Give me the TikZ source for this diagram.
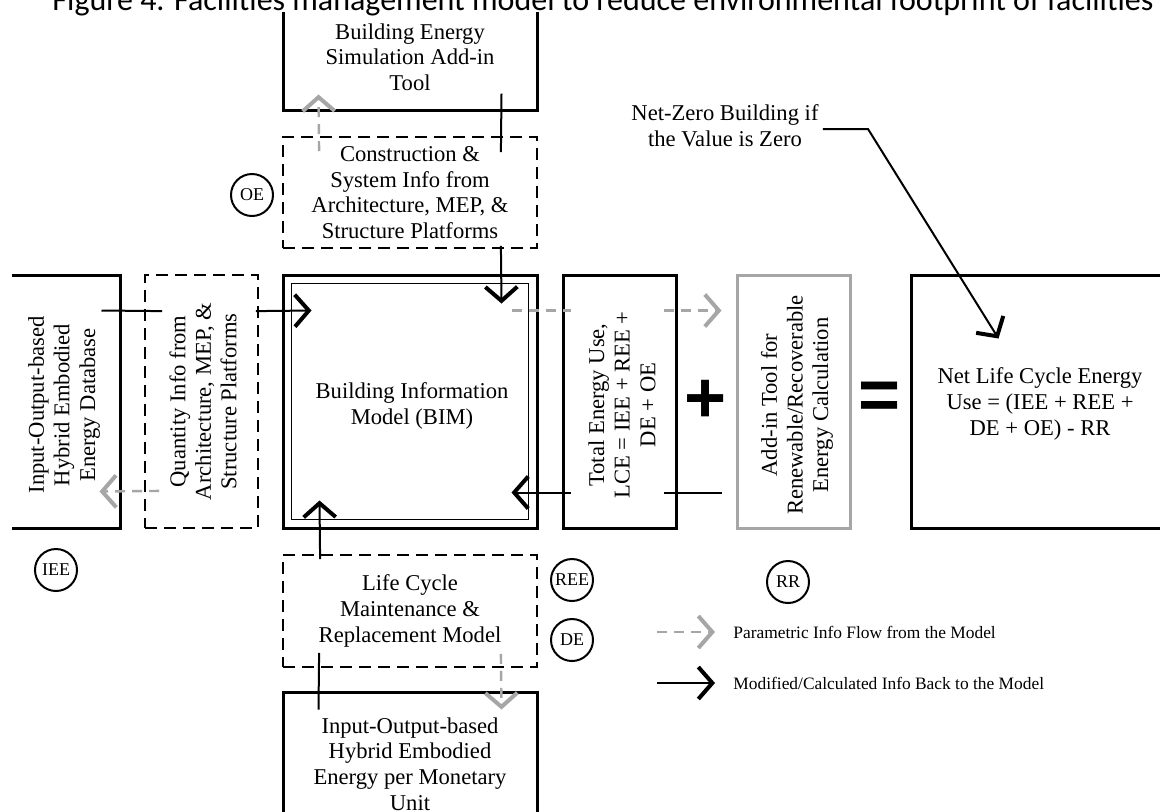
\documentclass[tikz,border=0pt]{standalone}
\usepackage{fontspec}
\setmainfont{Liberation Serif}
\newfontfamily\capfont{Carlito}
\newfontfamily\symfont{Liberation Sans}
\usetikzlibrary{arrows.meta}

\tikzset{vtip/.tip={Straight Barb[length=7pt, width=16pt, line width=2pt]}}

\begin{document}
\begin{tikzpicture}[
  x=0.5pt, y=-0.5pt,
  txt/.style={align=center, inner sep=0pt, font=\fontsize{11.3}{12.8}\selectfont},
  blk/.style={draw, line width=1.5pt, inner sep=0pt},
  dbox/.style={draw, line width=0.9pt, dash pattern=on 6pt off 3.5pt, inner sep=0pt},
  gbox/.style={draw=gray!70, line width=1.5pt, inner sep=0pt},
  tag/.style={draw, circle, line width=1pt, minimum size=21pt, inner sep=0pt,
              font=\fontsize{9}{10}\selectfont},
  modline/.style={line width=1pt},
  parline/.style={draw=gray!70, line width=1.2pt, dash pattern=on 5pt off 3.5pt},
  sym/.style={inner sep=0pt, font=\symfont\bfseries\fontsize{36}{36}\selectfont}
]
\useasboundingbox (0,0) rectangle (1160,811);
\begin{scope}
\clip (0,0) rectangle (1160,811);
\node[anchor=base, font=\capfont\fontsize{16}{16}\selectfont] (title) at (603,10)
  {Figure 4. Facilities management model to reduce environmental footprint of facilities};
\end{scope}

\begin{scope}
\clip (12,12) rectangle (1160,811);
\node[blk, minimum width=127pt, minimum height=53pt] (Sim) at (410,57) {};
\node[txt] at (Sim) {Building Energy\\Simulation Add-in\\Tool};
\node[dbox, minimum width=127pt, minimum height=55.5pt] (Cons) at (410,192.5) {};
\node[txt] at (Cons) {Construction \&\\System Info from\\Architecture, MEP, \&\\Structure Platforms};

\node[blk, minimum width=58pt, minimum height=126.5pt] (DB) at (62,401.5) {};
\node[txt, rotate=90] at (64,405) {Input-Output-based\\Hybrid Embodied\\Energy Database};
\node[dbox, minimum width=56.5pt, minimum height=126.5pt] (Qty) at (201.5,401.5) {};
\node[txt, rotate=90] at (203,401.5) {Quantity Info from\\Architecture, MEP, \&\\Structure Platforms};
\node[blk, minimum width=127pt, minimum height=126.5pt] (BIM) at (410,401.5) {};
\draw[line width=0.8pt] ([shift={(10,10)}]BIM.north west) rectangle ([shift={(-10,-10)}]BIM.south east);
\node[txt] at (412,406) {Building Information\\Model (BIM)};
\node[blk, minimum width=56.5pt, minimum height=126.5pt] (Tot) at (619.5,401.5) {};
\node[txt, rotate=90] at (622,405) {Total Energy Use,\\LCE = IEE + REE +\\DE + OE};
\node[sym] (plus) at (706,401) {+};
\node[gbox, minimum width=56.5pt, minimum height=126.5pt] (Add) at (793.5,401.5) {};
\node[txt, rotate=90] at (797,405) {Add-in Tool for\\Renewable/Recoverable\\Energy Calculation};
\node[sym] (eq) at (880,401) {=};
\node[blk, minimum width=129.5pt, minimum height=126.5pt] (Net) at (1040.5,401.5) {};
\node[txt] at (1040,404) {Net Life Cycle Energy\\Use = (IEE + REE +\\DE + OE) - RR};

\node[dbox, minimum width=127pt, minimum height=56pt] (Life) at (410,611) {};
\node[txt] at (Life) {Life Cycle\\Maintenance \&\\Replacement Model};
\node[blk, minimum width=127pt, minimum height=72pt] (Mon) at (410,764) {};
\node[txt] at (Mon) {Input-Output-based\\Hybrid Embodied\\Energy per Monetary\\Unit};
\end{scope}

\node[tag] (OE) at (252,195) {OE};
\node[tag] (IEE) at (56,570) {IEE};
\node[tag] (REE) at (572,580) {REE};
\node[tag] (DE) at (572,640) {DE};
\node[tag] (RR) at (788,582) {RR};
\node[txt] (NZ) at (725,126) {Net-Zero Building if\\the Value is Zero};
\coordinate (nzbend) at (868,129);

\draw[modline] ([shift={(-37,-18)}]Sim.south east) -- ([shift={(-37,16)}]Cons.north east);
\draw[modline, -vtip] ([shift={(-37,-3)}]Cons.south east) -- ([shift={(-37,30)}]BIM.north east);
\draw[modline] ([shift={(-20,37)}]DB.north east) -- ([shift={(18,37)}]Qty.north west);
\draw[modline, -vtip] ([shift={(-3,37)}]Qty.north east) -- ([shift={(30,37)}]BIM.north west);
\draw[modline] ([shift={(-14,-37)}]Add.south west) -- ([shift={(-14,-37)}]Tot.south east);
\draw[modline, -vtip] ([shift={(9,-37)}]Tot.south west) -- ([shift={(-27,-37)}]BIM.south east);
\draw[modline, -vtip] ([shift={(38,5)}]Life.north west) -- ([shift={(38,-29)}]BIM.south west);
\draw[modline] ([shift={(37,19)}]Mon.north west) -- ([shift={(37,-15)}]Life.south west);
\draw[modline, -vtip] ([shift={(4,3)}]NZ.east) -- (nzbend) -- ([shift={(89,65)}]Net.north west);

\draw[parline, -vtip] ([shift={(37,15)}]Cons.north west) -- ([shift={(37,-17)}]Sim.south west);
\draw[parline, -vtip] ([shift={(15,-38)}]Qty.south west) -- ([shift={(-22,-38)}]DB.south east);
\draw[parline] ([shift={(-27,37)}]BIM.north east) -- ([shift={(9,37)}]Tot.north west);
\draw[parline, -vtip] ([shift={(-14,37)}]Tot.north east) -- ([shift={(-14,37)}]Add.north west);
\draw[parline, -vtip] ([shift={(-37,-14)}]Life.south east) -- ([shift={(-37,19)}]Mon.north east);

\node[anchor=west, inner sep=0pt, font=\fontsize{8.7}{10}\selectfont] (lg1) at (733,632) {Parametric Info Flow from the Model};
\node[anchor=west, inner sep=0pt, font=\fontsize{8.7}{10}\selectfont] (lg2) at (733,683) {Modified/Calculated Info Back to the Model};
\coordinate (lg1s) at (657,632);
\coordinate (lg2s) at (657,683);
\draw[parline, -vtip] (lg1s) -- ([xshift=-9pt]lg1.west);
\draw[modline, -vtip] (lg2s) -- ([xshift=-9pt]lg2.west);
\end{tikzpicture}
\end{document}
